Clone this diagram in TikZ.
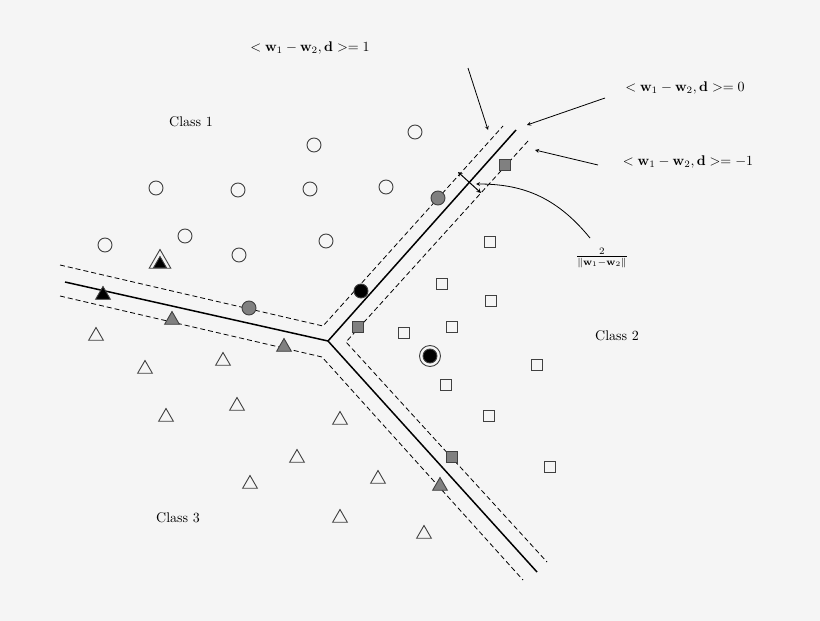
\documentclass[tikz,border=0pt]{standalone}
\usepackage{amsmath}
\usepackage{amsfonts}
\usepackage{tikz}
\usetikzlibrary{shapes.geometric}
\tikzset{
  pt/.style={draw=black!75, line width=0.9pt, inner sep=0pt},
  circ/.style={pt, circle, minimum size=14pt},
  tri/.style={pt, regular polygon, regular polygon sides=3, minimum size=17pt},
  sq/.style={pt, rectangle, minimum size=11pt},
  margin/.style={dashed, line width=0.8pt, dash pattern=on 5pt off 3pt},
  lbl/.style={font=\normalsize, scale=1.4}
}
\begin{document}
\begin{tikzpicture}[x=1pt, y=-1pt, >={stealth}]
	\fill[white!96!black] (0,0) rectangle (820,621);
	% boundaries
	\coordinate (c) at (328,341);
	\draw [line width=1.5pt] (c) -- (516,130);
	\draw [line width=1.5pt] (c) -- (65,282);
	\draw [line width=1.5pt] (c) -- (537,572);
	\draw [margin] (60,265) -- (323,326) -- (503,126);
	\draw [margin] (528,141) -- (346,342) -- (547,562);
	\draw [margin] (60,296) -- (322,357) -- (523,580);
	% class 1
	\foreach \x/\y [count=\i] in {314/145, 415/132, 156/188, 238/190, 310/189, 386/187, 105/245, 185/236, 239/255, 326/241}
		\node [circ] (o\i) at (\x,\y) {};
	\node [circ, fill=gray] (og1) at (438,198) {};
	\node [circ, fill=gray] (og2) at (249,308) {};
	\node [circ, fill=black] (ob1) at (361,291) {};
	\node [circ, minimum size=21pt] (ob2) at (430,356) {};
	\node [circ, fill=black] at (ob2) {};
	% class 3
	\foreach \x/\y [count=\i] in {96/336, 145/369, 223/361, 166/417, 237/406, 340/420, 297/458, 378/479, 250/484, 340/518, 424/534}
		\node [tri] (t\i) at (\x,\y) {};
	\foreach \x/\y [count=\i] in {172/320, 284/347, 440/486}
		\node [tri, fill=gray] (tg\i) at (\x,\y) {};
	\node [tri, fill=black] (tb1) at (103,295) {};
	\node [tri, minimum size=25pt] (tb2) at (160,262) {};
	\node [tri, fill=black, minimum size=15pt] at (160,264) {};
	% class 2
	\foreach \x/\y [count=\i] in {490/242, 442/284, 491/301, 404/333, 452/327, 537/365, 446/385, 489/416, 550/467}
		\node [sq] (s\i) at (\x,\y) {};
	\foreach \x/\y [count=\i] in {505/165, 358/327, 452/457}
		\node [sq, fill=gray] (sg\i) at (\x,\y) {};
	% labels
	\node [lbl] (cls1) at (191,122) {Class 1};
	\node [lbl] (cls2) at (617,336) {Class 2};
	\node [lbl] (cls3) at (178,518) {Class 3};
	\node [lbl] (eqp) at (310,48) {$<\mathbf{w}_1-\mathbf{w}_2,\mathbf{d}>=1$};
	\node [lbl] (eqz) at (685,88) {$<\mathbf{w}_1-\mathbf{w}_2,\mathbf{d}>=0$};
	\node [lbl] (eqm) at (688,162) {$<\mathbf{w}_1-\mathbf{w}_2,\mathbf{d}>=-1$};
	\node [lbl] (frac) at (602,258) {$\frac{2}{\|\mathbf{w}_1-\mathbf{w}_2\|}$};
	% arrows
	\coordinate (ap) at (488,130);
	\coordinate (az) at (527,125);
	\coordinate (am) at (535,150);
	\coordinate (ma) at (458,172);
	\coordinate (mb) at (481,193);
	\coordinate (mc) at (476,184);
	\draw [->, line width=0.8pt] (468,68) -- (ap);
	\draw [->, line width=0.8pt] (605,98) -- (az);
	\draw [->, line width=0.8pt] (598,165) -- (am);
	\draw [<->, line width=1pt] (ma) -- (mb);
	\draw [->, line width=0.8pt] (590,238) .. controls (555,195) and (520,184) .. (mc);
\end{tikzpicture}
\end{document}
